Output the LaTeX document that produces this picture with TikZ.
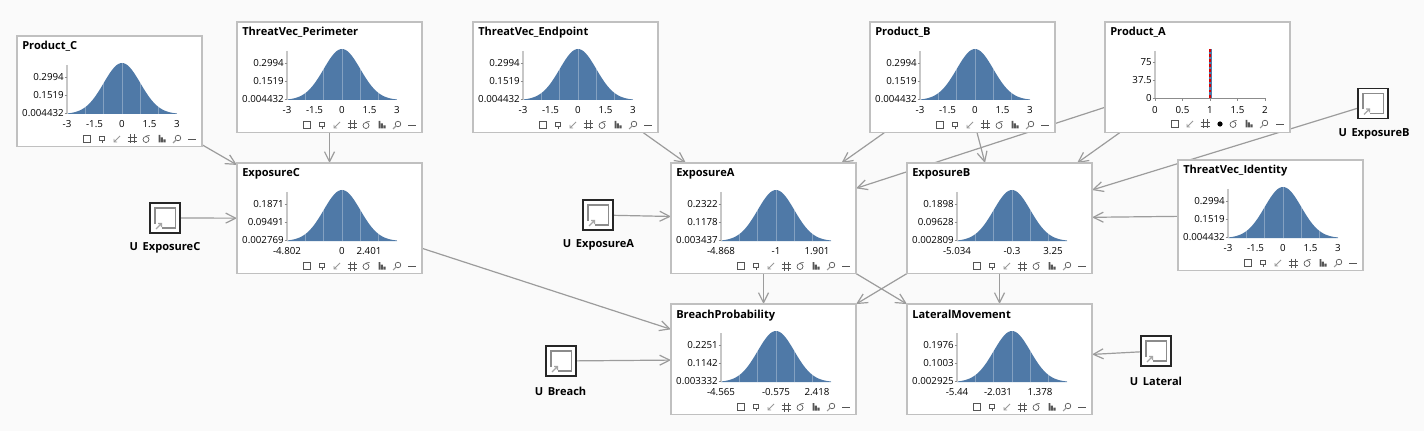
\documentclass[tikz,border=0pt]{standalone}
\usepackage{fontspec}
\setmainfont{Open Sans}
\usetikzlibrary{arrows.meta,backgrounds}
\definecolor{pagebg}{HTML}{FAFAFA}
\definecolor{boxline}{HTML}{C0C0C0}
\definecolor{wire}{HTML}{9C9C9C}
\definecolor{curve}{HTML}{4F79A7}
\definecolor{icon}{HTML}{555555}
\tikzset{
  bnbox/.style={draw=boxline,line width=.95pt,fill=white,anchor=north west,inner sep=0pt,outer sep=0pt,minimum width=138.75pt,minimum height=83pt},
  bntitle/.style={anchor=base west,inner sep=0pt,font=\fontsize{8.3}{10}\selectfont\bfseries},
  ylab/.style={anchor=east,inner sep=0pt,font=\fontsize{7.3}{8}\selectfont},
  xlab/.style={anchor=center,inner sep=0pt,font=\fontsize{7.3}{8}\selectfont},
  wirearrow/.style={draw=wire,line width=0.9pt,-{Straight Barb[length=7.5pt,width=7.5pt,line width=0.9pt]}},
  ubox/.style={draw=black!85,line width=1.1pt,fill=white,inner sep=0pt,outer sep=0pt,minimum width=22.5pt,minimum height=22.5pt},
  ulabel/.style={inner sep=0pt,font=\fontsize{8.3}{10}\selectfont\bfseries},
}
% toolbar icons
\newcommand{\icbox}[2]{\draw[icon,line width=.5pt,fill=white] (#1-3.2,#2-3.2) rectangle (#1+3.2,#2+3.2);\draw[icon,line width=.9pt] (#1-3.2,#2+3.2) -- (#1+3.2,#2+3.2) -- (#1+3.2,#2-3.2);}
\newcommand{\icpin}[2]{\draw[icon,line width=.5pt] (#1-2.5,#2-3) rectangle (#1+2.5,#2+1);\draw[icon,line width=.5pt] (#1,#2+1) -- (#1,#2+4);}
\newcommand{\icarrow}[2]{\draw[icon!60,line width=.7pt] (#1+3,#2-3) -- (#1-3,#2+3) (#1-3,#2) -- (#1-3,#2+3) -- (#1,#2+3);}
\newcommand{\ichash}[2]{\draw[icon,line width=.45pt] (#1-2,#2-4.5) -- (#1-2,#2+4.5) (#1+2,#2-4.5) -- (#1+2,#2+4.5) (#1-4.5,#2-2) -- (#1+4.5,#2-2) (#1-4.5,#2+2) -- (#1+4.5,#2+2);}
\newcommand{\icdot}[2]{\fill[black] (#1,#2) circle[radius=2.6];}
\newcommand{\icsig}[2]{\draw[icon,line width=.5pt] (#1,#2+.5) circle[radius=3];\draw[icon,line width=.5pt] (#1,#2-3) -- (#1+3.5,#2-3.5);}
\newcommand{\icbars}[2]{\fill[icon] (#1-3.5,#2-4) rectangle (#1-1.7,#2+3.5) (#1-1.2,#2-1.5) rectangle (#1+.8,#2+3.5) (#1+1.3,#2+.5) rectangle (#1+3.5,#2+3.5);}
\newcommand{\icmag}[2]{\draw[icon,line width=.5pt] (#1+1,#2-1) circle[radius=2.8];\draw[icon!60,line width=.8pt] (#1-1,#2+1) -- (#1-4,#2+4);}
\newcommand{\icdash}[2]{\draw[icon,line width=.6pt] (#1-4,#2) -- (#1+4,#2);}
% y ticks and axis
\newcommand{\yaxis}[4]{%
  \draw[black!22,line width=1pt] (50,29) -- (50,78);
  \foreach \ty/\tl/\tn in {41/#2/a,59/#3/b,77/#4/c}{%
    \draw[black!45,line width=.4pt] (47.5,\ty) -- (50,\ty);
    \node[ylab] (#1-y\tn) at (47,\ty) {\tl};
  }}
% gaussian box: id, x, y, title, y labels (3), x label list
\newcommand{\gaussbox}[8]{%
  \node[bnbox] (#1) at (#2,#3) {};
  \begin{scope}[shift={(#2,#3)}]
    \node[bntitle] (#1-title) at (5,14) {#4};
    \fill[curve] plot[domain=-3:3,samples=61,smooth] ({105+18.33*\x},{78-51*exp(-0.5*\x*\x)}) -- (160,78) -- (50,78) -- cycle;
    \foreach \g in {-2,-1,0,1,2}{\draw[white,opacity=.3,line width=.75pt] ({105+18.33*\g},78) -- ({105+18.33*\g},{78-51*exp(-0.5*\g*\g)});}
    \yaxis{#1}{#5}{#6}{#7}
    \foreach \px/\pl [count=\pi] in {#8}{\node[xlab] (#1-x\pi) at (\px,88) {\pl};}
    \icbox{70}{103}\icpin{85}{103}\icarrow{100}{103}\ichash{115}{103}\icsig{129}{103}\icbars{145}{103}\icmag{160}{103}\icdash{175}{103}
  \end{scope}}
% utility node
\newcommand{\unode}[5]{%
  \node[ubox] (#1) at (#2,#3) {};
  \begin{scope}[shift={(#2,#3)}]
    \draw[black!45,line width=.9pt] (-10,6) -- (-10,-10) -- (10.5,-10) -- (10.5,10) -- (-3.5,10);
    \draw[black!35,line width=.9pt] (-9,11) -- (-3.5,5.5) (-7,5.5) -- (-3.5,5.5) -- (-3.5,9);
  \end{scope}
  \node[ulabel] (#1-label) at (#4,#3+30) {#5};}
\begin{document}
\begin{tikzpicture}[x=0.75pt,y=-0.75pt]
\useasboundingbox (0,0) rectangle (1424,431);
\gaussbox{prodc}{17}{36}{Product\_C}{0.2994}{0.1519}{0.004432}{50/-3,77.5/-1.5,105/0,132.5/1.5,160/3}
\gaussbox{tvperim}{237}{22}{ThreatVec\_Perimeter}{0.2994}{0.1519}{0.004432}{50/-3,77.5/-1.5,105/0,132.5/1.5,160/3}
\gaussbox{tvend}{473}{22}{ThreatVec\_Endpoint}{0.2994}{0.1519}{0.004432}{50/-3,77.5/-1.5,105/0,132.5/1.5,160/3}
\gaussbox{prodb}{870}{22}{Product\_B}{0.2994}{0.1519}{0.004432}{50/-3,77.5/-1.5,105/0,132.5/1.5,160/3}
\gaussbox{tvid}{1178}{160}{ThreatVec\_Identity}{0.2994}{0.1519}{0.004432}{50/-3,77.5/-1.5,105/0,132.5/1.5,160/3}
\gaussbox{expc}{237}{163}{ExposureC}{0.1871}{0.09491}{0.002769}{50/-4.802,105/0,132/2.401}
\gaussbox{expa}{671}{163}{ExposureA}{0.2322}{0.1178}{0.003437}{50/-4.868,105/-1,146/1.901}
\gaussbox{expb}{907}{163}{ExposureB}{0.1898}{0.09628}{0.002809}{50/-5.034,105/-0.3,146/3.25}
\gaussbox{breach}{671}{304}{BreachProbability}{0.2251}{0.1142}{0.003332}{50/-4.565,105/-0.575,146/2.418}
\gaussbox{lateral}{907}{304}{LateralMovement}{0.1976}{0.1003}{0.002925}{50/-5.44,91/-2.031,133/1.378}
% Product_A
\node[bnbox] (proda) at (1105,22) {};
\begin{scope}[shift={(1105,22)}]
  \node[bntitle] (proda-title) at (5,14) {Product\_A};
  \draw[black!45,line width=.75pt] (50,76.5) -- (160,76.5);
  \foreach \tx in {50,77.5,105,132.5,160}{\draw[black!45,line width=.4pt] (\tx,76.5) -- (\tx,79);}
  \draw[black!22,line width=1pt] (50,29) -- (50,76.5);
  \foreach \ty/\tl/\tn in {40/75/a,58/37.5/b,76/0/c}{%
    \draw[black!45,line width=.4pt] (47.5,\ty) -- (50,\ty);
    \node[ylab] (proda-y\tn) at (47,\ty) {\tl};}
  \fill[curve] (103.5,27) rectangle (106.5,76.5);
  \draw[red!85!black,line width=1pt,dash pattern=on 2.2pt off 1.6pt] (105,27) -- (105,76.5);
  \foreach \px/\pl [count=\pi] in {50/0,77.5/0.5,105/1,132.5/1.5,160/2}{\node[xlab] (proda-x\pi) at (\px,88) {\pl};}
  \icbox{70}{102}\icarrow{85}{102}\ichash{100}{102}\icdot{115}{102}\icsig{128}{102}\icbars{144}{102}\icmag{159}{102}\icdash{175}{102}
\end{scope}
% utility nodes
\unode{uc}{165}{218}{165}{U\hspace{3.5pt}ExposureC}
\unode{ua}{598}{215}{598.5}{U\hspace{3.5pt}ExposureA}
\unode{ubr}{561}{361}{560.5}{U\hspace{3.5pt}Breach}
\unode{ul}{1156}{351}{1156}{U\hspace{3.5pt}Lateral}
\unode{ub}{1373}{103.5}{1374}{U\hspace{3.5pt}ExposureB}
% connectors
\begin{pgfonlayer}{background}
\fill[pagebg] (0,0) rectangle (1424,431);
\foreach \a/\b in {prodc/expc,tvperim/expc,uc/expc,tvend/expa,prodb/expa,proda/expa,ua/expa,
    prodb/expb,proda/expb,ub/expb,tvid/expb,expc/breach,expa/breach,expb/breach,ubr/breach,
    expa/lateral,expb/lateral,ul/lateral}{
  \draw[wirearrow] (\a) -- (\b);
}
\end{pgfonlayer}
\end{tikzpicture}
\end{document}
